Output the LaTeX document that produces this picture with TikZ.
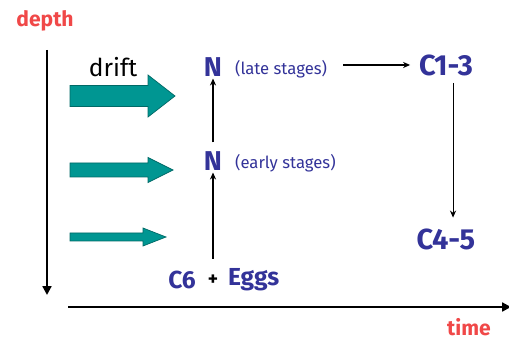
\documentclass[tikz,border=0pt]{standalone}
\usepackage{fontspec}
\setmainfont{Fira Sans}
\usetikzlibrary{arrows.meta}
\definecolor{stageblue}{RGB}{51,51,153}
\definecolor{driftteal}{RGB}{0,150,146}
\definecolor{axisred}{RGB}{240,72,72}
% teal arrow: (x start,y)(x neck,x tip)(shaft half,head half)
\def\driftarrow(#1,#2)(#3,#4)(#5,#6){\filldraw[drift] (#1,#2-#5) -- (#3,#2-#5) -- (#3,#2-#6) -- (#4,#2) -- (#3,#2+#6) -- (#3,#2+#5) -- (#1,#2+#5) -- cycle;}

\begin{document}
\begin{tikzpicture}[x=0.02cm,y=-0.02cm,
    drift/.style={fill=driftteal,draw=driftteal!70!black,line width=0.4pt},
    stage/.style={text=stageblue,font=\bfseries\fontsize{14}{16}\selectfont,inner sep=1pt},
    big/.style={stage,font=\bfseries\fontsize{16.5}{18}\selectfont},
    small/.style={text=stageblue,font=\fontsize{9.5}{11}\selectfont,inner sep=1pt},
    axislabel/.style={text=axisred,font=\bfseries\fontsize{12}{14}\selectfont},
    axis/.style={line width=1.2pt,-{Triangle[length=5pt,width=5pt]}},
    link/.style={line width=0.6pt,-{Stealth[length=4pt,width=3.5pt]}}]
  %%%%% START %%%%%
  \useasboundingbox (0,0) rectangle (509,340);

  % axes
  \coordinate (dtop) at (47,50);
  \coordinate (dbot) at (47,295);
  \coordinate (tleft) at (68,307);
  \coordinate (tright) at (511,307);
  \draw[axis] (dtop) -- (dbot);
  \draw[axis] (tleft) -- (tright);
  \node[axislabel] (depth) at (45,21) {depth};
  \node[axislabel] (time) at (469,327) {time};

  % drift arrows
  \node[font=\fontsize{14}{16}\selectfont] (drift) at (113,67) {drift};
  \driftarrow(70,96)(148,175)(10.5,21)
  \driftarrow(70,170)(148,173)(7,12.5)
  \driftarrow(70,237)(143,166)(4,9)

  % stages
  \node[stage,font=\bfseries\fontsize{15.5}{17}\selectfont] (nlate) at (213,67) {N};
  \node[small,anchor=west] (late) at (233,69) {(late stages)};
  \node[stage,font=\bfseries\fontsize{15.5}{17}\selectfont] (nearly) at (213,161) {N};
  \node[small,anchor=west] (early) at (233,163) {(early stages)};
  \node[stage] (c6) at (182,280) {C6};
  \node[font=\bfseries\fontsize{11}{13}\selectfont,inner sep=1pt] (plus) at (213,280) {+};
  \node[stage,anchor=west] (eggs) at (226,280) {Eggs};
  \node[big] (c13) at (446,65) {C1-3};
  \node[big] (c45) at (446,239) {C4-5};

  \draw[link] (c6.north -| plus) ++(0,-10) -- (nearly.south);
  \draw[link,shorten <=4pt] (nearly.north) -- (nlate.south);
  \draw[link,shorten <=8pt,shorten >=4pt] (late.east |- c13) -- (c13.west);
  \draw[link,shorten <=3pt,shorten >=5pt] ([xshift=4pt]c13.south) -- ([xshift=4pt]c45.north);
  %%%%% END %%%%%
\end{tikzpicture}
\end{document}
